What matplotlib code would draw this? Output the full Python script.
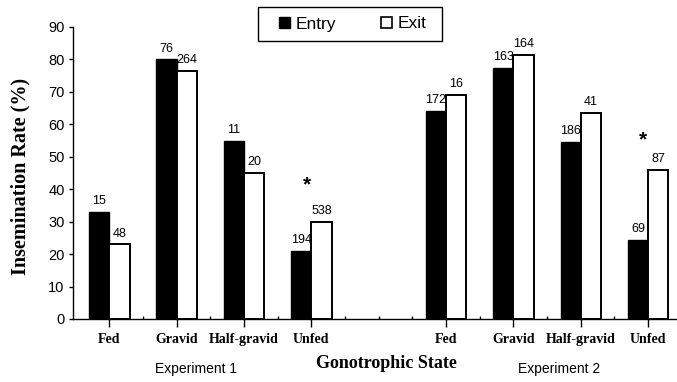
import numpy as np
from matplotlib import pyplot as plt
from matplotlib.patches import Patch, Rectangle
from matplotlib.ticker import FixedLocator

states = ["Fed", "Gravid", "Half-gravid", "Unfed"]

# insemination rate (%) per gonotrophic state
entry1 = [33, 80, 55, 21]
exit1 = [23, 76.5, 45, 30]
entry2 = [64, 77.5, 54.5, 24.5]
exit2 = [69, 81.5, 63.5, 46]

# sample sizes printed above the bars
entry_n1 = [15, 76, 11, 194]
exit_n1 = [48, 264, 20, 538]
entry_n2 = [172, 163, 186, 69]
exit_n2 = [16, 164, 41, 87]

# significance marks over Unfed
star_y = [43, 57]

SERIF = "Liberation Serif"
SANS = "Liberation Sans"

fig = plt.figure(figsize=(6.77, 3.82), dpi=100)
ax = fig.add_axes([73 / 677, 1 - 319 / 382, 1 - 73 / 677, (319 - 27) / 382])

x1 = np.arange(4)
x2 = np.arange(4) + 5
w = 0.30

def pair(x, ent, ext, n_ent, n_ext):
    b1 = ax.bar(x - w / 2, ent, w, color="black", edgecolor="black", linewidth=1.0)
    b2 = ax.bar(x + w / 2, ext, w, color="white", edgecolor="black", linewidth=1.4)
    for bars, nums in ((b1, n_ent), (b2, n_ext)):
        for b, n in zip(bars, nums):
            ax.annotate(str(n), (b.get_x() + b.get_width() / 2, b.get_height()),
                        xytext=(0, 3.5), textcoords="offset points",
                        ha="center", va="bottom", fontsize=9, family=SANS)

pair(x1, entry1, exit1, entry_n1, exit_n1)
pair(x2, entry2, exit2, entry_n2, exit_n2)

for xs, ys in zip([x1[-1], x2[-1]], star_y):
    ax.annotate("*", (xs - 0.07, ys), xytext=(0, -8), textcoords="offset points",
                ha="center", va="baseline", fontsize=15, fontweight="bold", family=SANS)

ax.set_xlim(-0.54, 8.43)
ax.set_ylim(0, 90)
ax.set_yticks(range(0, 91, 10))
ax.set_xticks(list(x1) + list(x2))
ax.set_xticklabels(states + states, family=SERIF, fontweight="bold", fontsize=10)
ax.xaxis.set_minor_locator(FixedLocator([0.5, 1.5, 2.5, 3.5, 4, 4.5, 5.5, 6.5, 7.5]))
ax.tick_params(axis="x", which="major", direction="out", length=6, width=1, pad=4)
ax.tick_params(axis="x", which="minor", direction="in", length=2.5, width=1)
ax.tick_params(axis="y", direction="out", length=3, width=1, pad=3, labelsize=10.5)
for lab in ax.get_yticklabels():
    lab.set_family(SANS)

for s in ["top", "right"]:
    ax.spines[s].set_visible(False)
for s in ["left", "bottom"]:
    ax.spines[s].set_linewidth(1.0)

fig.text(20 / 677, 1 - 176 / 382, "Insemination Rate (%)", rotation=90,
         ha="center", va="center", family=SERIF, fontweight="bold", fontsize=14.5)
fig.text(386 / 677, 1 - 364 / 382, "Gonotrophic State", ha="center", va="center",
         family=SERIF, fontweight="bold", fontsize=13)
fig.text(196 / 677, 1 - 369 / 382, "Experiment 1", ha="center", va="center",
         family=SANS, fontsize=10)
fig.text(559 / 677, 1 - 369 / 382, "Experiment 2", ha="center", va="center",
         family=SANS, fontsize=10)

# legend with a plain square box around it
handles = [Patch(facecolor="black", edgecolor="black"),
           Patch(facecolor="white", edgecolor="black", linewidth=1.2)]
fig.legend(handles, ["Entry", "Exit"], loc="center",
           bbox_to_anchor=(353 / 677, 1 - 24 / 382), ncol=2, frameon=False,
           prop={"family": SANS, "size": 12.5}, handlelength=0.6,
           handleheight=0.6, handletextpad=0.35, columnspacing=2.6,
           borderpad=0, borderaxespad=0)
fig.patches.append(Rectangle((258 / 677, 1 - 41 / 382), 184 / 677, 34 / 382,
                             transform=fig.transFigure, fill=False,
                             edgecolor="black", linewidth=1.0))

fig.savefig("out.png", dpi=100)
